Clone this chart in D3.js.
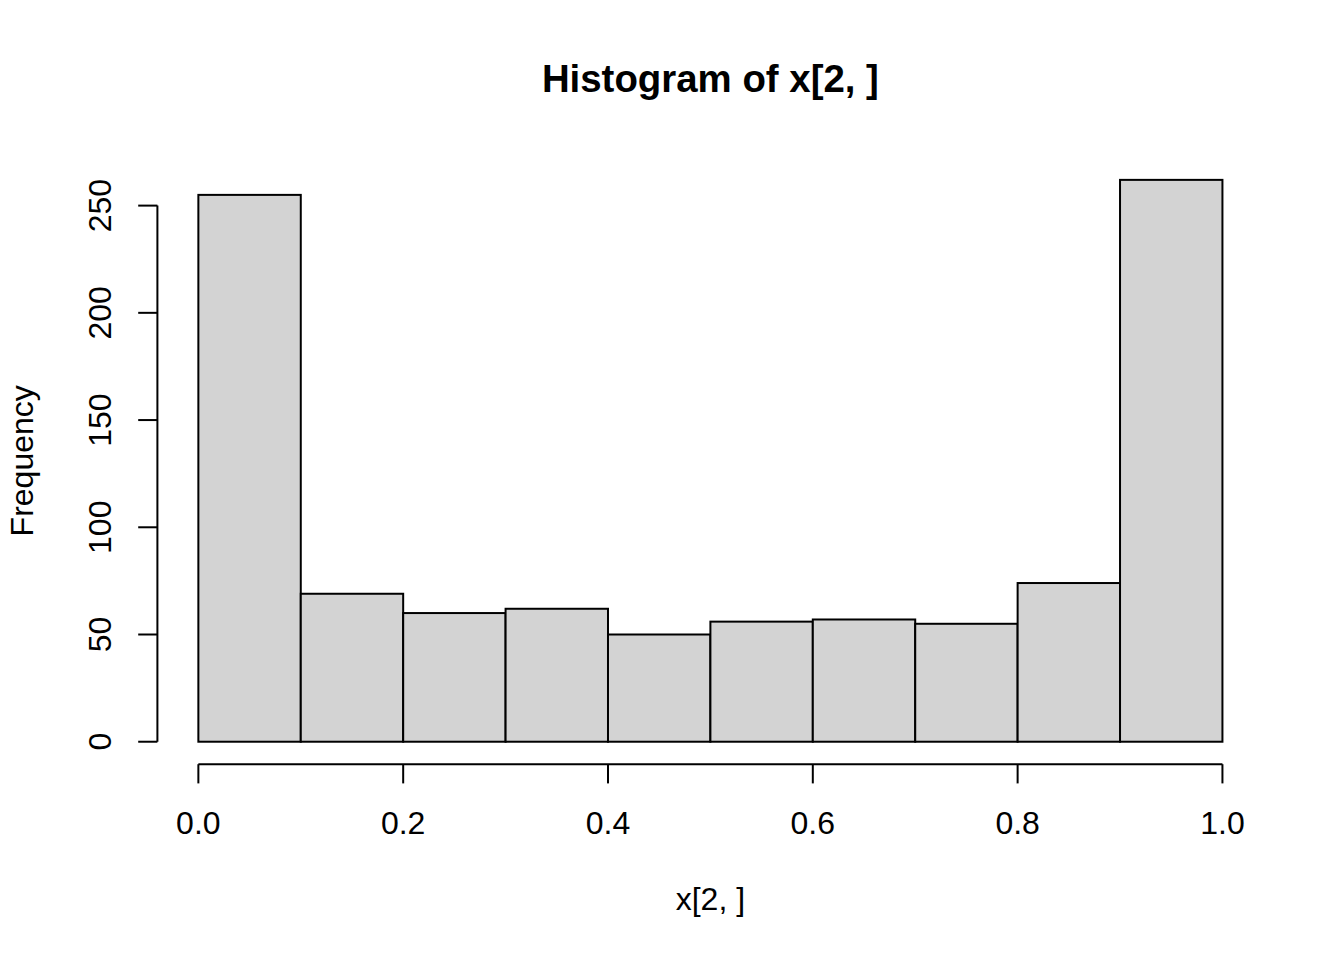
<!DOCTYPE html>
<html><head><meta charset="utf-8">
<script src="https://cdn.jsdelivr.net/npm/d3@7"></script>
<style>html,body{margin:0;padding:0;background:#fff;}</style>
</head><body>
<svg id="c" width="1344" height="960"></svg>
<script>
const binStarts = [0.0,0.1,0.2,0.3,0.4,0.5,0.6,0.7,0.8,0.9];
const binEnds   = [0.1,0.2,0.3,0.4,0.5,0.6,0.7,0.8,0.9,1.0];
const counts    = [255,69,60,62,50,56,57,55,74,262];
const xTicks = [0,0.2,0.4,0.6,0.8,1.0];
const yTicks = [0,50,100,150,200,250];
const title = "Histogram of x[2, ]";
const xLabel = "x[2, ]";
const yLabel = "Frequency";

const W=1344,H=960, line=38.4;
const plot = {l:157.4, r:W-80.6, t:157.4, b:H-195.8};
const font = "'Liberation Sans', Arial, Helvetica, sans-serif";
const svg = d3.select("#c");
const xmin=0,xmax=1, ymax=d3.max(counts);
const x = d3.scaleLinear().domain([xmin-0.04*(xmax-xmin), xmax+0.04*(xmax-xmin)]).range([plot.l, plot.r]);
const y = d3.scaleLinear().domain([-0.04*ymax, ymax*1.04]).range([plot.b, plot.t]);

const bins = counts.map((c,i)=>({x0:binStarts[i],x1:binEnds[i],c}));
svg.append("g").selectAll("rect").data(bins).join("rect")
  .attr("x",d=>x(d.x0)).attr("width",d=>x(d.x1)-x(d.x0))
  .attr("y",d=>y(d.c)).attr("height",d=>y(0)-y(d.c))
  .attr("fill","#D3D3D3").attr("stroke","#000").attr("stroke-width",2);

// x axis
const gx = svg.append("g").attr("transform",`translate(0,${plot.b})`);
gx.append("line").attr("x1",x(xTicks[0])).attr("x2",x(xTicks[xTicks.length-1])).attr("stroke","#000").attr("stroke-width",2);
gx.selectAll("line.t").data(xTicks).join("line").attr("class","t")
  .attr("x1",d=>x(d)).attr("x2",d=>x(d)).attr("y1",0).attr("y2",line*0.5).attr("stroke","#000").attr("stroke-width",2);
gx.selectAll("text").data(xTicks).join("text")
  .attr("x",d=>x(d)).attr("y",70).attr("text-anchor","middle")
  .attr("font-family",font).attr("font-size",32).text(d=>d3.format(".1f")(d));

// y axis
const gy = svg.append("g").attr("transform",`translate(${plot.l},0)`);
gy.append("line").attr("y1",y(yTicks[0])).attr("y2",y(yTicks[yTicks.length-1])).attr("stroke","#000").attr("stroke-width",2);
gy.selectAll("line.t").data(yTicks).join("line").attr("class","t")
  .attr("y1",d=>y(d)).attr("y2",d=>y(d)).attr("x1",0).attr("x2",-line*0.5).attr("stroke","#000").attr("stroke-width",2);
gy.selectAll("text").data(yTicks).join("text")
  .attr("transform",d=>`translate(-46,${y(d)}) rotate(-90)`).attr("text-anchor","middle")
  .attr("font-family",font).attr("font-size",32).text(d=>d);

// titles
svg.append("text").attr("x",(plot.l+plot.r)/2).attr("y",92).attr("text-anchor","middle")
  .attr("font-family",font).attr("font-size",38.4).attr("font-weight","bold").text(title);
svg.append("text").attr("x",(plot.l+plot.r)/2).attr("y",910).attr("text-anchor","middle")
  .attr("font-family",font).attr("font-size",32).text(xLabel);
svg.append("text").attr("transform",`translate(33,${(plot.t+plot.b)/2}) rotate(-90)`).attr("text-anchor","middle")
  .attr("font-family",font).attr("font-size",32).text(yLabel);
</script>
</body></html>
